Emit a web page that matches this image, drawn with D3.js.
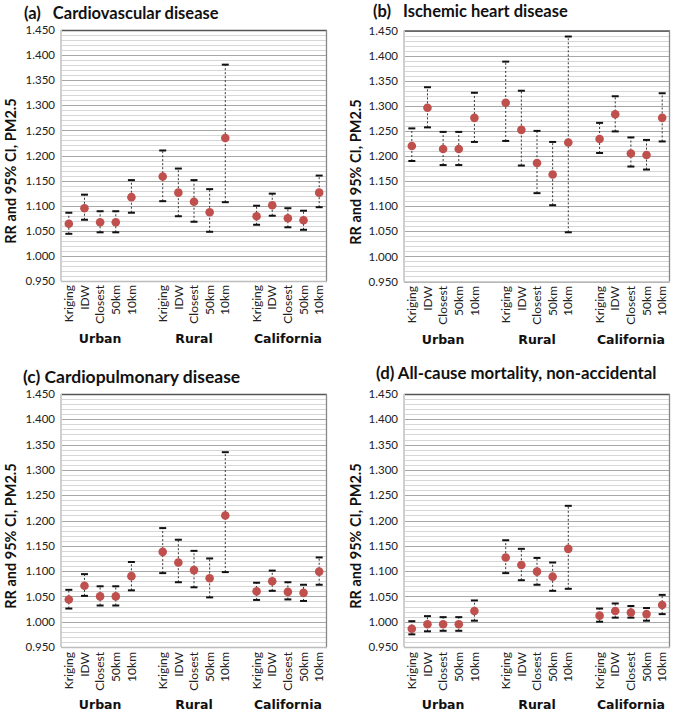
<!DOCTYPE html>
<html><head><meta charset="utf-8">
<script src="https://cdn.jsdelivr.net/npm/d3@7"></script>
<style>body{margin:0;background:#fff}</style>
</head><body>
<script>
const methods = ["Kriging","IDW","Closest","50km","10km"];
const groups = ["Urban","Rural","California"];
const yTicks = [0.950,1.000,1.050,1.100,1.150,1.200,1.250,1.300,1.350,1.400,1.450];

const titlesA = ["(a)","Cardiovascular disease"];
const rrA = [1.064,1.095,1.067,1.067,1.117, 1.158,1.126,1.108,1.087,1.235, 1.079,1.101,1.075,1.071,1.126];
const loA = [1.044,1.072,1.047,1.047,1.086, 1.109,1.079,1.068,1.048,1.107, 1.062,1.080,1.057,1.052,1.097];
const hiA = [1.086,1.122,1.089,1.089,1.151, 1.210,1.174,1.151,1.133,1.381, 1.100,1.124,1.095,1.090,1.160];

const titlesB = ["(b)","Ischemic heart disease"];
const rrB = [1.220,1.296,1.214,1.214,1.276, 1.306,1.252,1.186,1.163,1.227, 1.234,1.283,1.205,1.202,1.276];
const loB = [1.190,1.257,1.182,1.182,1.228, 1.230,1.181,1.126,1.102,1.048, 1.206,1.249,1.179,1.173,1.229];
const hiB = [1.255,1.337,1.248,1.248,1.326, 1.388,1.330,1.250,1.228,1.438, 1.266,1.319,1.237,1.232,1.325];

const titlesC = ["(c) Cardiopulmonary disease"];
const rrC = [1.044,1.071,1.050,1.050,1.090, 1.138,1.117,1.102,1.086,1.210, 1.060,1.080,1.059,1.057,1.099];
const loC = [1.026,1.051,1.032,1.032,1.062, 1.096,1.078,1.068,1.048,1.098, 1.043,1.061,1.044,1.041,1.073];
const hiC = [1.063,1.094,1.070,1.070,1.118, 1.185,1.162,1.140,1.125,1.335, 1.077,1.101,1.078,1.073,1.127];

const titlesD = ["(d) All-cause mortality, non-accidental"];
const rrD = [0.986,0.995,0.995,0.995,1.021, 1.127,1.112,1.099,1.089,1.144, 1.012,1.021,1.018,1.015,1.033];
const loD = [0.975,0.981,0.982,0.982,1.002, 1.096,1.082,1.073,1.061,1.065, 1.000,1.008,1.008,1.002,1.015];
const hiD = [1.001,1.011,1.009,1.009,1.042, 1.161,1.144,1.126,1.117,1.229, 1.026,1.036,1.031,1.027,1.053];

const yTitle = "RR and 95% CI, PM2.5";

const svg = d3.select("body").append("svg").attr("width",674).attr("height",713);
svg.append("rect").attr("width",674).attr("height",713).attr("fill","#fff");

const slots = [];
groups.forEach((g,gi)=>{ if(gi>0) slots.push("gap"+gi); methods.forEach(m=>slots.push(g+"|"+m)); });
const pointKeys = [];
groups.forEach(g=>methods.forEach(m=>pointKeys.push(g+"|"+m)));

const TF = "'Lato', 'Liberation Sans', sans-serif";
const HF = "'Lato', 'DejaVu Sans', sans-serif";

function panel(cfg){
  const {left,right,top,bottom,titles,rr,lo,hi,titleX,titleY,titleGap,titleSize,yTitleX,yTitleY,catTop,grpY} = cfg;
  const x = d3.scaleBand().domain(slots).range([left,right]).padding(0);
  const y = d3.scaleLinear().domain([0.95,1.45]).range([bottom,top]);
  const g = svg.append("g");
  const minor = d3.range(0,51).map(i=>0.95+i*0.01);
  g.selectAll(".mn").data(minor).join("line")
    .attr("x1",left).attr("x2",right)
    .attr("y1",d=>Math.round(y(d))+0.5).attr("y2",d=>Math.round(y(d))+0.5)
    .attr("stroke","#d6d6d6").attr("stroke-width",1.2);
  g.selectAll(".mj").data(yTicks).join("line")
    .attr("x1",left).attr("x2",right)
    .attr("y1",d=>Math.round(y(d))+0.5).attr("y2",d=>Math.round(y(d))+0.5)
    .attr("stroke","#a8a8a8").attr("stroke-width",1.2);
  g.append("line").attr("x1",left).attr("x2",right).attr("y1",top+0.5).attr("y2",top+0.5).attr("stroke","#555").attr("stroke-width",1.3);
  g.append("line").attr("x1",right-0.5).attr("x2",right-0.5).attr("y1",top).attr("y2",bottom).attr("stroke","#888").attr("stroke-width",1.3);
  g.append("line").attr("x1",left).attr("x2",left).attr("y1",top).attr("y2",bottom).attr("stroke","#cfcfcf").attr("stroke-width",2);
  g.append("line").attr("x1",left).attr("x2",right).attr("y1",bottom+0.5).attr("y2",bottom+0.5).attr("stroke","#bdbdbd").attr("stroke-width",1.3);

  const yAxis = d3.axisLeft(y).tickValues(yTicks).tickFormat(d3.format(".3f")).tickSize(0).tickPadding(6);
  const ya = g.append("g").attr("transform",`translate(${left},0)`).call(yAxis);
  ya.select(".domain").remove();
  ya.selectAll("text").attr("font-family",TF).attr("font-size",11.5).attr("fill","#222");

  const xAxis = d3.axisBottom(x).tickSize(0).tickFormat(d=>d.startsWith("gap")?"":d.split("|")[1]);
  const xa = g.append("g").attr("transform",`translate(0,${catTop})`).call(xAxis);
  xa.select(".domain").remove();
  xa.selectAll("text").attr("font-family",TF).attr("font-size",12).attr("fill","#222")
    .attr("transform","rotate(-90)").attr("text-anchor","end").attr("dy","0.35em").attr("x",0).attr("y",0);

  groups.forEach(gr=>{
    const cx = x(gr+"|Closest")+x.bandwidth()/2;
    g.append("text").attr("x",cx).attr("y",grpY).attr("text-anchor","middle").attr("dominant-baseline","middle")
      .attr("font-family","'DejaVu Sans', sans-serif").attr("font-weight","bold").attr("font-size",12.5).attr("fill","#111").text(gr);
  });

  g.append("text").attr("transform",`translate(${yTitleX},${yTitleY}) rotate(-90)`).attr("text-anchor","middle")
    .attr("dominant-baseline","middle").attr("font-family",TF).attr("font-weight","bold").attr("font-size",14.5).attr("fill","#111").text(yTitle);

  const t = g.append("text").attr("x",titleX).attr("y",titleY).attr("font-family",HF).attr("font-weight","bold").attr("font-size",titleSize).attr("fill","#111");
  if(titles.length===2){
    t.append("tspan").text(titles[0]);
    t.append("tspan").attr("dx",titleGap).text(titles[1]);
  } else t.text(titles[0]);

  const pts = pointKeys.map((k,i)=>({k,rr:rr[i],lo:lo[i],hi:hi[i]}));
  const cxf = d=>x(d.k)+x.bandwidth()/2;
  g.selectAll(".eb").data(pts).join("line")
    .attr("x1",cxf).attr("x2",cxf).attr("y1",d=>y(d.lo)).attr("y2",d=>y(d.hi))
    .attr("stroke","#333").attr("stroke-width",1).attr("stroke-dasharray","2,2");
  ["lo","hi"].forEach(f=>{
    g.selectAll(".cap"+f).data(pts).join("line")
      .attr("x1",d=>cxf(d)-3.5).attr("x2",d=>cxf(d)+3.5).attr("y1",d=>y(d[f])).attr("y2",d=>y(d[f]))
      .attr("stroke","#111").attr("stroke-width",2);
  });
  g.selectAll(".dot").data(pts).join("circle")
    .attr("cx",cxf).attr("cy",d=>y(d.rr)).attr("r",4.3).attr("fill","#C0504D");
}

panel({left:61,right:327,top:30,bottom:281,titles:titlesA,rr:rrA,lo:loA,hi:hiA,titleX:24,titleY:19,titleGap:12,titleSize:16.5,yTitleX:12,yTitleY:171,catTop:285,grpY:339});
panel({left:404,right:670,top:30.5,bottom:281.5,titles:titlesB,rr:rrB,lo:loB,hi:hiB,titleX:373,titleY:17,titleGap:12,titleSize:16.5,yTitleX:357,yTitleY:172,catTop:286,grpY:340});
panel({left:61,right:327,top:394,bottom:647,titles:titlesC,rr:rrC,lo:loC,hi:hiC,titleX:23,titleY:383,titleGap:0,titleSize:17.5,yTitleX:12,yTitleY:536,catTop:652,grpY:705});
panel({left:404,right:670,top:394,bottom:647,titles:titlesD,rr:rrD,lo:loD,hi:hiD,titleX:376,titleY:379,titleGap:0,titleSize:16.8,yTitleX:357,yTitleY:536,catTop:652,grpY:705});
</script>
</body></html>
